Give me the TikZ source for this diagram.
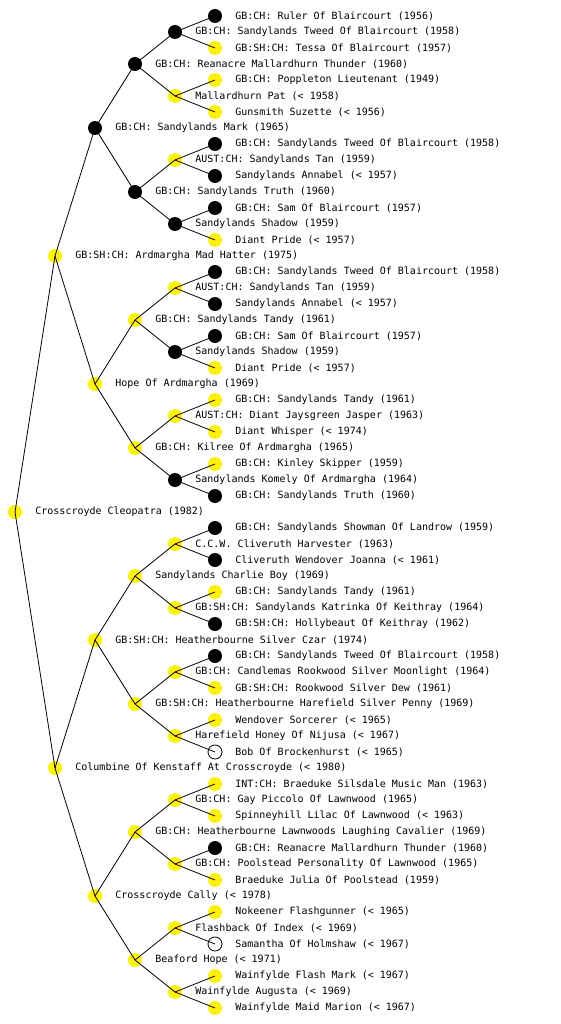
\documentclass[tikz,border=0pt]{standalone}
\usepackage{fontspec}
\setmonofont{DejaVu Sans Mono}

\tikzset{
  dog/.style={circle, inner sep=0pt, minimum size=14pt},
  ch/.style={dog, fill=black},
  ye/.style={dog, fill=yellow},
  un/.style={dog, draw=black, fill=white, line width=0.8pt},
  dogname/.style={anchor=west, inner sep=0pt, font=\ttfamily\fontsize{10}{12}\selectfont},
}

\begin{document}
\begin{tikzpicture}[x=1pt, y=-1pt, line width=0.8pt]
  \useasboundingbox (0,0) rectangle (560,1024);
  % nodes in order top to bottom: depth / marker / name
  \foreach \d/\c/\t [count=\i] in {
    5/ch/GB:CH: Ruler Of Blaircourt (1956),
    4/ch/GB:CH: Sandylands Tweed Of Blaircourt (1958),
    5/ye/GB:SH:CH: Tessa Of Blaircourt (1957),
    3/ch/GB:CH: Reanacre Mallardhurn Thunder (1960),
    5/ye/GB:CH: Poppleton Lieutenant (1949),
    4/ye/Mallardhurn Pat (< 1958),
    5/ye/Gunsmith Suzette (< 1956),
    2/ch/GB:CH: Sandylands Mark (1965),
    5/ch/GB:CH: Sandylands Tweed Of Blaircourt (1958),
    4/ye/AUST:CH: Sandylands Tan (1959),
    5/ch/Sandylands Annabel (< 1957),
    3/ch/GB:CH: Sandylands Truth (1960),
    5/ch/GB:CH: Sam Of Blaircourt (1957),
    4/ch/Sandylands Shadow (1959),
    5/ye/Diant Pride (< 1957),
    1/ye/GB:SH:CH: Ardmargha Mad Hatter (1975),
    5/ch/GB:CH: Sandylands Tweed Of Blaircourt (1958),
    4/ye/AUST:CH: Sandylands Tan (1959),
    5/ch/Sandylands Annabel (< 1957),
    3/ye/GB:CH: Sandylands Tandy (1961),
    5/ch/GB:CH: Sam Of Blaircourt (1957),
    4/ch/Sandylands Shadow (1959),
    5/ye/Diant Pride (< 1957),
    2/ye/Hope Of Ardmargha (1969),
    5/ye/GB:CH: Sandylands Tandy (1961),
    4/ye/AUST:CH: Diant Jaysgreen Jasper (1963),
    5/ye/Diant Whisper (< 1974),
    3/ye/GB:CH: Kilree Of Ardmargha (1965),
    5/ye/GB:CH: Kinley Skipper (1959),
    4/ch/Sandylands Komely Of Ardmargha (1964),
    5/ch/GB:CH: Sandylands Truth (1960),
    0/ye/Crosscroyde Cleopatra (1982),
    5/ch/GB:CH: Sandylands Showman Of Landrow (1959),
    4/ye/C.C.W. Cliveruth Harvester (1963),
    5/ch/Cliveruth Wendover Joanna (< 1961),
    3/ye/Sandylands Charlie Boy (1969),
    5/ye/GB:CH: Sandylands Tandy (1961),
    4/ye/GB:SH:CH: Sandylands Katrinka Of Keithray (1964),
    5/ch/GB:SH:CH: Hollybeaut Of Keithray (1962),
    2/ye/GB:SH:CH: Heatherbourne Silver Czar (1974),
    5/ch/GB:CH: Sandylands Tweed Of Blaircourt (1958),
    4/ye/GB:CH: Candlemas Rookwood Silver Moonlight (1964),
    5/ye/GB:SH:CH: Rookwood Silver Dew (1961),
    3/ye/GB:SH:CH: Heatherbourne Harefield Silver Penny (1969),
    5/ye/Wendover Sorcerer (< 1965),
    4/ye/Harefield Honey Of Nijusa (< 1967),
    5/un/Bob Of Brockenhurst (< 1965),
    1/ye/Columbine Of Kenstaff At Crosscroyde (< 1980),
    5/ye/INT:CH: Braeduke Silsdale Music Man (1963),
    4/ye/GB:CH: Gay Piccolo Of Lawnwood (1965),
    5/ye/Spinneyhill Lilac Of Lawnwood (< 1963),
    3/ye/GB:CH: Heatherbourne Lawnwoods Laughing Cavalier (1969),
    5/ch/GB:CH: Reanacre Mallardhurn Thunder (1960),
    4/ye/GB:CH: Poolstead Personality Of Lawnwood (1965),
    5/ye/Braeduke Julia Of Poolstead (1959),
    2/ye/Crosscroyde Cally (< 1978),
    5/ye/Nokeener Flashgunner (< 1965),
    4/ye/Flashback Of Index (< 1969),
    5/un/Samantha Of Holmshaw (< 1967),
    3/ye/Beaford Hope (< 1971),
    5/ye/Wainfylde Flash Mark (< 1967),
    4/ye/Wainfylde Augusta (< 1969),
    5/ye/Wainfylde Maid Marion (< 1967)} {
    \node[\c] (n\i) at ({15+40*\d}, {16*\i}) {};
    \node[dogname] (l\i) at ({35+40*\d}, {16*\i}) {\t};
  }
  % parent to sire and dam
  \foreach \h in {1,...,5} {
    \pgfmathtruncatemacro\hs{2^\h}
    \pgfmathtruncatemacro\hf{\hs/2}
    \pgfmathtruncatemacro\nk{32/\hs}
    \foreach \k in {1,...,\nk} {
      \pgfmathtruncatemacro\p{\hs*(2*\k-1)}
      \pgfmathtruncatemacro\lc{\p-\hf}
      \pgfmathtruncatemacro\rc{\p+\hf}
      \draw (n\p.center) -- (n\lc.center);
      \draw (n\p.center) -- (n\rc.center);
    }
  }
\end{tikzpicture}
\end{document}
